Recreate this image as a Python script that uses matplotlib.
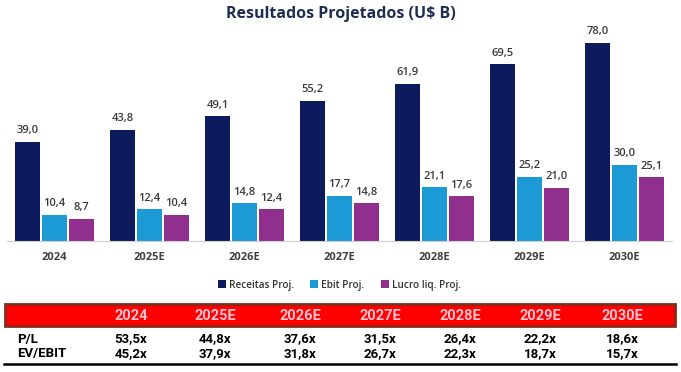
#resultados projetados - bar chart with multiples table below
import matplotlib.pyplot as plt
import numpy as np

anos = ['2024', '2025E', '2026E', '2027E', '2028E', '2029E', '2030E']
receitas = [39.0, 43.8, 49.1, 55.2, 61.9, 69.5, 78.0]
ebit = [10.4, 12.4, 14.8, 17.7, 21.1, 25.2, 30.0]
lucro = [8.7, 10.4, 12.4, 14.8, 17.6, 21.0, 25.1]
pl = ['53,5x', '44,8x', '37,6x', '31,5x', '26,4x', '22,2x', '18,6x']
ev_ebit = ['45,2x', '37,9x', '31,8x', '26,7x', '22,3x', '18,7x', '15,7x']


def fmt(v):
    return f'{v:.1f}'.replace('.', ',')


def main():
    W, H = 681, 372
    fig = plt.figure(figsize=(W / 100, H / 100), dpi=100)
    plt.rcParams['font.family'] = ['Open Sans', 'DejaVu Sans']

    #chart axes in pixel terms
    ax = fig.add_axes([7 / W, 131 / H, 665 / W, 211 / H])
    x = np.arange(len(anos))
    bw = 0.27
    off = 0.285
    series = [(receitas, '#0d1b5e', 'Receitas Proj.', -off),
              (ebit, '#1b9ad6', 'Ebit Proj.', 0),
              (lucro, '#912f8e', 'Lucro liq. Proj.', off)]
    for vals, col, lab, dx in series:
        bars = ax.bar(x + dx, vals, bw, color=col, label=lab)
        for b, v in zip(bars, vals):
            ax.annotate(fmt(v), (b.get_x() + b.get_width() / 2, v),
                        xytext=(0, 4), textcoords='offset points',
                        ha='center', va='bottom', fontsize=8,
                        color='#3a3a3a', fontweight='semibold')

    ax.set_xlim(-0.5, len(anos) - 0.5)
    ax.set_ylim(0, 83)
    ax.set_yticks([])
    ax.set_xticks(x, anos)
    ax.tick_params(axis='x', length=0, pad=8, labelsize=8, labelcolor='#404040')
    for t in ax.get_xticklabels():
        t.set_fontweight('bold')
    for s in ['top', 'right', 'left']:
        ax.spines[s].set_visible(False)
    ax.spines['bottom'].set_color('#d0d0d0')

    ax.legend(loc='upper center', bbox_to_anchor=(0.5, -0.14), ncol=3,
              frameon=False, handlelength=0.8, handleheight=0.8,
              handletextpad=0.3, columnspacing=1.6, labelcolor='#333333',
              prop={'weight': 'semibold', 'size': 7.2})

    fig.text(0.5, 1 - 14 / H, 'Resultados Projetados (U$ B)', ha='center',
             va='center', fontsize=11.5, fontweight='bold', color='#1f2d52')

    #table drawn in pixel coordinates
    tx = fig.add_axes([0, 0, 1, 1])
    tx.set_xlim(0, W)
    tx.set_ylim(H, 0)
    tx.axis('off')
    tx.add_patch(plt.Rectangle((5, 304), 670, 22, facecolor='#ff0000',
                               edgecolor='#8a2a1a', linewidth=2))
    cols = [131, 215, 300, 380, 460, 540, 622]
    narrow = ['Roboto', 'DejaVu Sans']
    for cx, a in zip(cols, anos):
        tx.text(cx, 315.5, a, ha='center', va='center', fontsize=10.5,
                fontweight='bold', color='#ffc4d2', family=narrow)
    for cx, a, b in zip(cols, pl, ev_ebit):
        tx.text(cx, 339, a, ha='center', va='center', fontsize=9.5,
                fontweight='bold', color='black', family=narrow)
        tx.text(cx, 354, b, ha='center', va='center', fontsize=9.5,
                fontweight='bold', color='black', family=narrow)
    tx.text(17, 339, 'P/L', ha='left', va='center', fontsize=9.5,
            fontweight='bold', family=narrow)
    tx.text(17, 354, 'EV/EBIT', ha='left', va='center', fontsize=9.5,
            fontweight='bold', family=narrow)
    tx.plot([4, 676], [364, 364], color='black', linewidth=1.8)

    fig.savefig('out.png', dpi=100)


main()
